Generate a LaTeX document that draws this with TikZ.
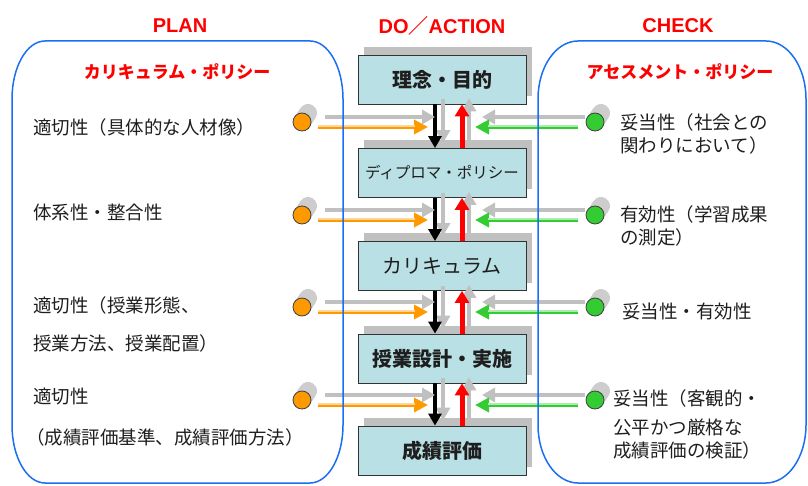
\documentclass[tikz,border=0pt]{standalone}
\usepackage{fontspec}
\setmainfont{Noto Sans CJK JP}
\newfontfamily\latinsans{Liberation Sans}
\usetikzlibrary{arrows.meta,shadows,backgrounds}
\definecolor{frameblue}{RGB}{26,110,245}
\definecolor{stagefill}{RGB}{185,224,228}
\definecolor{planorange}{RGB}{255,153,0}
\definecolor{checkgreen}{RGB}{51,204,51}
\definecolor{shadegray}{RGB}{192,192,192}
\definecolor{textgray}{RGB}{30,30,30}

\begin{document}
\begin{tikzpicture}[x=1pt,y=-1pt]
        \tikzstyle{every node}=[text=textgray,inner sep=0pt]
        \tikzstyle{stage}=[draw=black!80,fill=stagefill,line width=0.8pt,minimum width=168pt,minimum height=49pt,
            font=\bfseries\fontsize{20}{24}\selectfont,
            drop shadow={shadow xshift=6pt,shadow yshift=8pt,opacity=1,fill=shadegray}]
        \tikzstyle{phase}=[text=red,font=\latinsans\bfseries\fontsize{20}{24}\selectfont]
        \tikzstyle{policy}=[text=red,font=\bfseries\fontsize{17}{21}\selectfont]
        \tikzstyle{criterion}=[anchor=west,align=left,font=\fontsize{18.5}{23}\selectfont]
        \tikzstyle{plan dot}=[circle,fill=planorange,draw=black!75,line width=0.8pt,minimum size=18pt]
        \tikzstyle{check dot}=[circle,fill=checkgreen,draw=black!75,line width=0.8pt,minimum size=18pt]
        \tikzstyle{dot shade}=[draw=shadegray!80,line width=18pt,line cap=round]
        \tikzstyle{shade arrow}=[draw=shadegray,line width=4.5pt,-{Triangle[length=13pt,width=14pt]}]
        \tikzstyle{plan arrow}=[draw=planorange,line width=4.5pt,-{Triangle[length=14pt,width=14pt]}]
        \tikzstyle{check arrow}=[draw=checkgreen,line width=4.5pt,-{Triangle[length=14pt,width=14pt]}]
        \tikzstyle{plan stripe}=[draw=planorange!40!white,line width=1.5pt]
        \tikzstyle{check stripe}=[draw=checkgreen!40!white,line width=1.5pt]
        \tikzstyle{down arrow}=[draw=black,line width=3.8pt,-{Triangle[length=12pt,width=13pt]}]
        \tikzstyle{up arrow}=[draw=red,line width=5pt,-{Triangle[length=12pt,width=14pt]}]
        \tikzstyle{policy frame}=[draw=frameblue,line width=1.5pt]
        \useasboundingbox (0,0) rectangle (808,486);
        \node[phase] (plan) at (180,26) {PLAN};
        \node[phase] (doaction) at (442,26) {DO{\rmfamily ／}ACTION};
        \node[phase] (check) at (678,26) {CHECK};
        \node[policy] (cp) at (177,72) {カリキュラム・ポリシー};
        \node[policy] (ap) at (680,72) {アセスメント・ポリシー};
        \node[stage] (s1) at (442,79.5) {理念・目的};
        \node[stage,font=\fontsize{15.5}{19}\selectfont] (s2) at (442,173) {ディプロマ・ポリシー};
        \node[stage,font=\fontsize{20}{24}\selectfont] (s3) at (442,266) {カリキュラム};
        \node[stage] (s4) at (442,358.5) {授業設計・実施};
        \node[stage] (s5) at (442,450.5) {成績評価};
        \node[criterion] (l1) at (33,127) {適切性（具体的な人材像）};
        \node[criterion] (l2) at (33,212) {体系性・整合性};
        \node[criterion] (l3) at (33,305) {適切性（授業形態、};
        \node[criterion] (l3b) at (33,343) {授業方法、授業配置）};
        \node[criterion] (l4) at (33,397) {適切性};
        \node[criterion] (l4b) at (26,437) {（成績評価基準、成績評価方法）};
        \node[criterion] (r1) at (620,133.5) {妥当性（社会との\\関わりにおいて）};
        \node[criterion] (r2) at (620,226) {有効性（学習成果\\の測定）};
        \node[criterion] (r3) at (622,312) {妥当性・有効性};
        \node[criterion] (r4) at (613,424) {妥当性（客観的・\\[6pt]公平かつ厳格な\\成績評価の検証）};
        \foreach \i/\y in {1/127,2/220,3/312,4/405} {
            \node[plan dot] (p\i) at (302,\y-5) {};
            \node[check dot] (c\i) at (595,\y-5) {};
            \coordinate (pe\i) at (428,\y);
            \coordinate (ce\i) at (475,\y);
        }
        \foreach \i/\j in {1/2,2/3,3/4,4/5} {
            \draw[shade arrow] ([shift={(1,-5)}]s\i.south) -- ([shift={(1,-5)}]s\j.north);
            \draw[shade arrow] ([shift={(27,-6)}]s\j.north) -- ([shift={(27,-6)}]s\i.south);
            \draw[down arrow] ([xshift=-7pt]s\i.south) -- ([xshift=-7pt]s\j.north);
            \draw[up arrow] ([xshift=20pt]s\j.north) -- ([xshift=20pt]s\i.south);
        }
        \foreach \i in {1,...,4} {
            \begin{pgfonlayer}{background}
                \draw[dot shade] (p\i.center) -- ++(6,-9);
                \draw[dot shade] (c\i.center) -- ++(6,-9);
            \end{pgfonlayer}
            \draw[shade arrow] ([shift={(23,-5)}]p\i.center) -- ([shift={(7,-10)}]pe\i);
            \draw[shade arrow] ([shift={(-10,-5)}]c\i.center) -- ([shift={(7,-10)}]ce\i);
            \draw[plan arrow] ([shift={(16,5)}]p\i.center) -- (pe\i);
            \draw[check arrow] ([shift={(-17,5)}]c\i.center) -- (ce\i);
            \draw[plan stripe] ([shift={(16,4)}]p\i.center) -- ([shift={(-13,-1)}]pe\i);
            \draw[check stripe] ([shift={(-17,4)}]c\i.center) -- ([shift={(13,-1)}]ce\i);
        }
        \draw[policy frame] (12,99) arc[start angle=180,end angle=270,x radius=33,y radius=58] -- (310,41)
            arc[start angle=270,end angle=360,x radius=33,y radius=58] -- (343,425)
            arc[start angle=0,end angle=90,x radius=33,y radius=58] -- (45,483)
            arc[start angle=90,end angle=180,x radius=33,y radius=58] -- cycle;
        \draw[policy frame] (538,99) arc[start angle=180,end angle=270,x radius=40,y radius=58] -- (766,41)
            arc[start angle=270,end angle=360,x radius=40,y radius=58] -- (806,425)
            arc[start angle=0,end angle=90,x radius=40,y radius=58] -- (578,483)
            arc[start angle=90,end angle=180,x radius=40,y radius=58] -- cycle;
    \end{tikzpicture}
\end{document}
